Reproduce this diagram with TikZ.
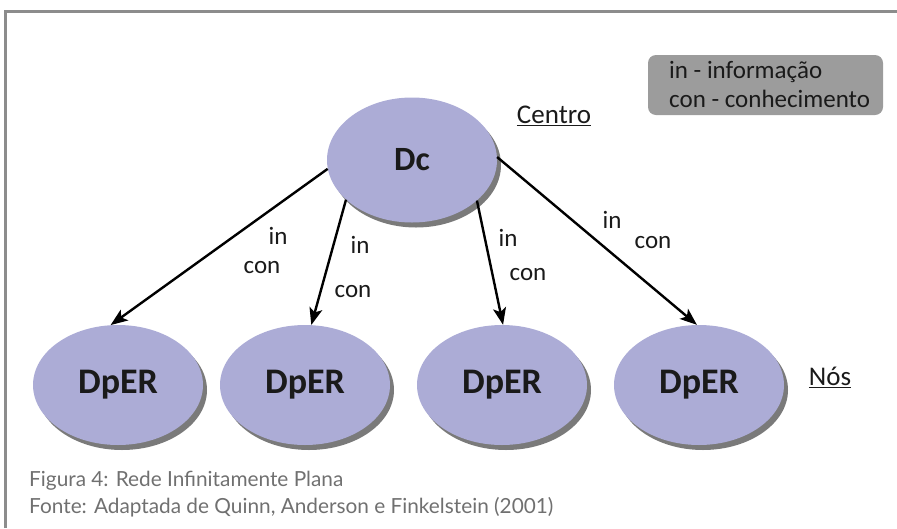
\documentclass[tikz,border=0pt]{standalone}
\usepackage{fontspec}
\setmainfont{Carlito}
\newfontfamily\capfont{Lato}
\usetikzlibrary{shapes.geometric,arrows.meta,shadows}
\definecolor{lav}{HTML}{ACACD6}
\definecolor{shad}{HTML}{7A7A7A}
\definecolor{legfill}{HTML}{9C9C9C}
\definecolor{framegray}{HTML}{8C8C8C}
\definecolor{captxt}{HTML}{707070}
\definecolor{txt}{HTML}{1A1A1A}
\tikzset{
  blob/.style={ellipse, fill=lav, inner sep=0pt, text=txt,
    drop shadow={shadow xshift=4pt, shadow yshift=-5pt, fill=shad, opacity=1}},
  hubnode/.style={blob, minimum width=170pt, minimum height=125pt, font=\fontsize{34}{40}\selectfont\bfseries},
  leafnode/.style={blob, minimum width=170pt, minimum height=120pt, font=\fontsize{36}{42}\selectfont\bfseries},
  conn/.style={line width=2.4pt, -{Stealth[length=17pt,width=13pt,inset=4pt]}},
  lbl/.style={font=\fontsize{25}{30}\selectfont, text=txt, inner sep=0pt},
  ttl/.style={font=\fontsize{27}{32}\selectfont, text=txt, inner sep=0pt},
  capline/.style={font=\capfont\fontsize{20.8}{24}\selectfont, text=captxt, inner sep=0pt, anchor=west}
}
\begin{document}
\begin{tikzpicture}[x=1pt,y=-1pt]
\useasboundingbox (0,0) rectangle (897,528);
\draw[framegray, line width=3pt] (5,528) -- (5,11) -- (897,11);

\node[hubnode] (dc) at (412,160) {Dc};
\node[leafnode] (n1) at (118,385) {DpER};
\node[leafnode] (n2) at (305,385) {DpER};
\node[leafnode] (n3) at (502,385) {DpER};
\node[leafnode] (n4) at (699,385) {DpER};

\draw[conn] (dc.186) -- (n1.97);
\draw[conn] (dc.211) -- (n2.84);
\draw[conn] (dc.328) -- (n3.89);
\draw[conn] (dc.2) -- (n4.92);

\node[lbl] (i1) at (278,236) {in};
\node[lbl] (c1) at (262,268) {con};
\node[lbl] (i2) at (360,245) {in};
\node[lbl] (c2) at (353,292) {con};
\node[lbl] (i3) at (508,238) {in};
\node[lbl] (c3) at (528,275) {con};
\node[lbl] (i4) at (612,220) {in};
\node[lbl] (c4) at (653,243) {con};

\node[ttl] (centro) at (554,116) {\underline{Centro}};
\node[ttl] (nos) at (830,377) {\underline{Nós}};

\node[fill=legfill, rounded corners=8pt, minimum width=235pt, minimum height=60pt, inner sep=0pt] (leg) at (765.5,85) {};
\node[lbl, anchor=west] (l1) at (669,72) {in - informação};
\node[lbl, anchor=west] (l2) at (669,99) {con - conhecimento};

\node[capline] (f1) at (29,481) {Figura 4: Rede Infinitamente Plana};
\node[capline] (f2) at (29,507) {Fonte: Adaptada de Quinn, Anderson e Finkelstein (2001)};
\end{tikzpicture}
\end{document}
